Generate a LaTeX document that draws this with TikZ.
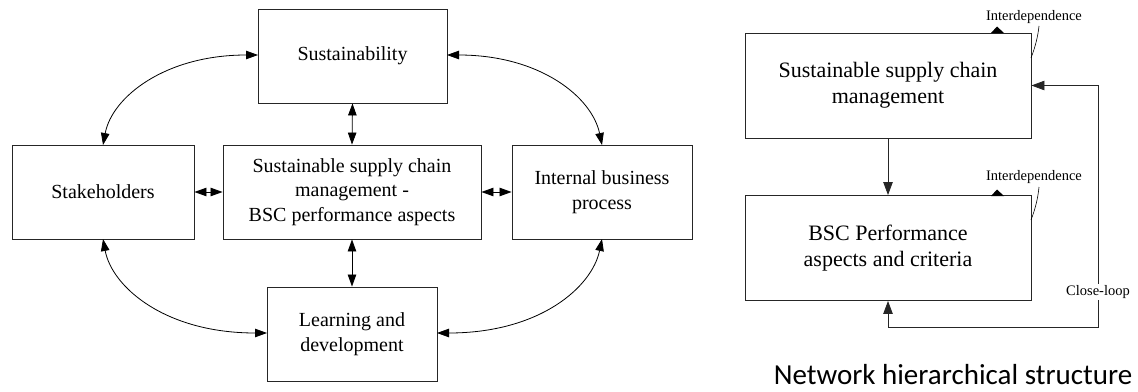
\documentclass[tikz,border=0pt]{standalone}
\usepackage{fontspec}
\setmainfont{Liberation Serif}
\newfontfamily\titlefont{Carlito}
\usetikzlibrary{arrows.meta}
\begin{document}
\begin{tikzpicture}[x=1pt,y=-1pt,
  box/.style={draw=black!85,line width=0.9pt,rectangle,align=center,inner sep=0pt},
  lbox/.style={box,font=\fontsize{20}{24.5}\selectfont,minimum height=94pt},
  rbox/.style={box,font=\fontsize{22}{26}\selectfont,minimum width=286pt,minimum height=105pt},
  small/.style={font=\fontsize{14.5}{16}\selectfont,inner sep=1pt},
  larr/.style={line width=0.8pt,{Triangle[length=12pt,width=8.5pt]}-{Triangle[length=12pt,width=8.5pt]}},
  rarr/.style={line width=0.8pt,black!85}
]
\useasboundingbox (0,0) rectangle (1138,391);
% ---- left diagram ----
\node[lbox,minimum width=189pt] (sust) at (352.5,56) {Sustainability};
\node[lbox,minimum width=182pt] (stake) at (103,192) {Stakeholders};
\node[lbox,minimum width=258pt] (ssc) at (352,192) {Sustainable supply chain\\management -\\BSC performance aspects};
\node[lbox,minimum width=180pt] (ibp) at (602,192) {Internal business\\process};
\node[lbox,minimum width=170pt] (learn) at (352,334) {Learning and\\development};

\draw[larr] (sust.south) -- (ssc.north);
\draw[larr] (ssc.south) -- (learn.north);
\draw[larr] (stake.east) -- (ssc.west);
\draw[larr] (ssc.east) -- (ibp.west);

\coordinate (sL) at (258,55);
\coordinate (sR) at (447,55);
\coordinate (kT) at (103,145);
\coordinate (kB) at (103,239);
\coordinate (lL) at (267,333);
\coordinate (lR) at (437,333);
\coordinate (iT) at (602,145);
\coordinate (iB) at (602,239);
\draw[larr] (sL) .. controls (165,55) and (112,97) .. (kT);
\draw[larr] (kB) .. controls (112,287) and (165,333) .. (lL);
\draw[larr] (sR) .. controls (540,55) and (592,97) .. (iT);
\draw[larr] (lR) .. controls (540,333) and (592,287) .. (iB);

% ---- right diagram ----
\node[rbox] (sscm) at (888,85.5) {Sustainable supply chain\\management};
\node[rbox] (bsc) at (888,248) {BSC Performance\\aspects and criteria};
\draw[rarr,-{Triangle[length=13pt,width=9.5pt]}] (sscm.south) -- (bsc.north);

\coordinate (lc) at (1098,327);
\draw[rarr,{Triangle[length=13pt,width=9.5pt]}-{Triangle[length=13pt,width=9.5pt]}] (sscm.east) -| (lc) -| (bsc.south);
\node[small,fill=white] (cl) at (1098,292) {Close-loop};

\node[small] (int1) at (1034,17) {Interdependence};
\node[small] (int2) at (1034,177) {Interdependence};
\coordinate (e1) at (1031,58);
\coordinate (e2) at (1031,220);
\draw[line width=0.6pt] (e1) .. controls (1036,45) and (1038,35) .. (1039,26);
\draw[line width=0.6pt] (e2) .. controls (1036,207) and (1038,197) .. (1039,187);
\fill (991,33) -- (1004,33) -- (997,26.5) -- cycle;
\fill (991,196) -- (1004,196) -- (997,189.5) -- cycle;

\node[font=\titlefont\fontsize{29}{32}\selectfont,inner sep=0pt] (title) at (953,375) {Network hierarchical structure};
\end{tikzpicture}
\end{document}
